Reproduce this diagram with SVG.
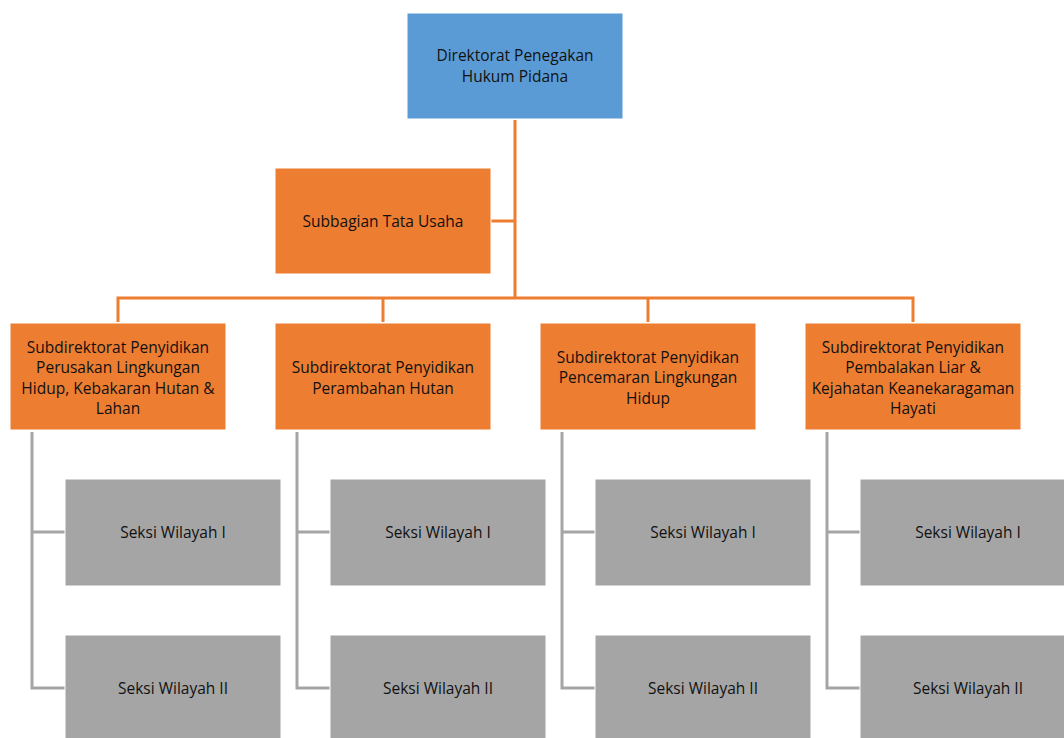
<svg xmlns="http://www.w3.org/2000/svg" width="1064" height="738" viewBox="0 0 1064 738">
<style>
.box{stroke:#ffffff;stroke-width:1}
.blue{fill:#5B9BD5}
.org{fill:#ED7D31}
.gray{fill:#A5A5A5}
.oc{fill:none;stroke:#ED7D31;stroke-width:3}
.gc{fill:none;stroke:#A5A5A5;stroke-width:3}
text{font-family:"Open Sans","Liberation Sans",Arial,sans-serif;font-size:15.5px;fill:#111;text-anchor:middle;dominant-baseline:central}
</style>
<rect width="1064" height="738" fill="#fff"/>
<g id="connectors">
<path class="oc" d="M515 120V298M491 221H515M118 322V298H913V322M383 298V322M648 298V322"/>
<path class="gc" d="M32 432V688H65M32 532H65"/>
<path class="gc" d="M297 432V688H330M297 532H330"/>
<path class="gc" d="M562 432V688H595M562 532H595"/>
<path class="gc" d="M827 432V688H860M827 532H860"/>
</g>
<g id="direktorat"><rect class="box blue" x="407" y="13" width="216" height="106"/><text x="515" y="55">Direktorat Penegakan</text><text x="515" y="76">Hukum Pidana</text></g>
<g id="subbagian"><rect class="box org" x="275" y="168" width="216" height="106"/><text x="383" y="221">Subbagian Tata Usaha</text></g>
<g id="subdit1"><rect class="box org" x="10" y="323" width="216" height="107"/><text x="118" y="347">Subdirektorat Penyidikan</text><text x="118" y="367">Perusakan Lingkungan</text><text x="118" y="388">Hidup, Kebakaran Hutan &amp;</text><text x="118" y="408">Lahan</text></g>
<g id="subdit2"><rect class="box org" x="275" y="323" width="216" height="107"/><text x="383" y="367">Subdirektorat Penyidikan</text><text x="383" y="388">Perambahan Hutan</text></g>
<g id="subdit3"><rect class="box org" x="540" y="323" width="216" height="107"/><text x="648" y="357">Subdirektorat Penyidikan</text><text x="648" y="377">Pencemaran Lingkungan</text><text x="648" y="398">Hidup</text></g>
<g id="subdit4"><rect class="box org" x="805" y="323" width="216" height="107"/><text x="913" y="347">Subdirektorat Penyidikan</text><text x="913" y="367">Pembalakan Liar &amp;</text><text x="913" y="388">Kejahatan Keanekaragaman</text><text x="913" y="408">Hayati</text></g>
<g id="seksi1a"><rect class="box gray" x="65" y="479" width="216" height="107"/><text x="173" y="532">Seksi Wilayah I</text></g>
<g id="seksi1b"><rect class="box gray" x="65" y="635" width="216" height="107"/><text x="173" y="688">Seksi Wilayah II</text></g>
<g id="seksi2a"><rect class="box gray" x="330" y="479" width="216" height="107"/><text x="438" y="532">Seksi Wilayah I</text></g>
<g id="seksi2b"><rect class="box gray" x="330" y="635" width="216" height="107"/><text x="438" y="688">Seksi Wilayah II</text></g>
<g id="seksi3a"><rect class="box gray" x="595" y="479" width="216" height="107"/><text x="703" y="532">Seksi Wilayah I</text></g>
<g id="seksi3b"><rect class="box gray" x="595" y="635" width="216" height="107"/><text x="703" y="688">Seksi Wilayah II</text></g>
<g id="seksi4a"><rect class="box gray" x="860" y="479" width="216" height="107"/><text x="968" y="532">Seksi Wilayah I</text></g>
<g id="seksi4b"><rect class="box gray" x="860" y="635" width="216" height="107"/><text x="968" y="688">Seksi Wilayah II</text></g>
</svg>
